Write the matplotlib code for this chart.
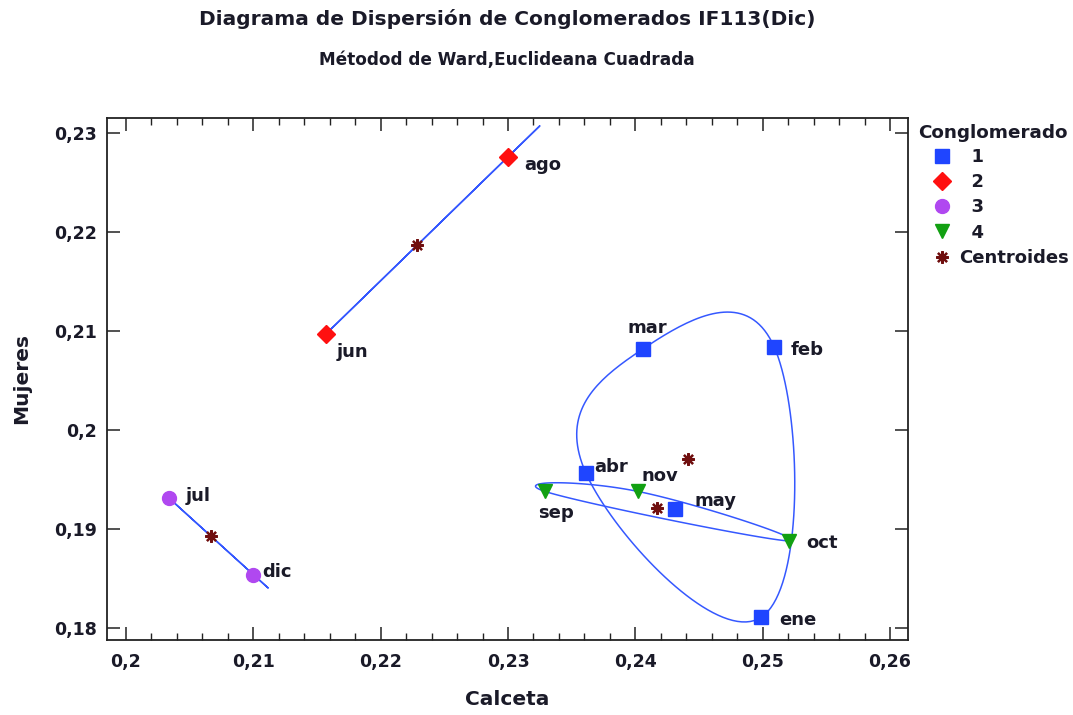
import matplotlib
matplotlib.use('Agg')
import matplotlib.pyplot as plt
import numpy as np
from matplotlib.lines import Line2D
from matplotlib.ticker import MultipleLocator, FuncFormatter

meses = ['ene', 'feb', 'mar', 'abr', 'may', 'jun', 'jul', 'ago', 'sep', 'oct', 'nov', 'dic']
calceta = [0.2499, 0.2509, 0.2406, 0.2361, 0.2431, 0.2157, 0.2034, 0.2300, 0.2329, 0.2521, 0.2402, 0.2100]
mujeres = [0.1811, 0.2084, 0.2082, 0.1957, 0.1920, 0.2097, 0.1931, 0.2276, 0.1938, 0.1888, 0.1938, 0.1854]
conglomerado = [1, 1, 1, 1, 1, 2, 3, 2, 4, 4, 4, 3]

# estilo por conglomerado
estilos = {
    1: dict(marker='s', color='#1f45ff', ms=10),
    2: dict(marker='D', color='#ff1010', ms=9),
    3: dict(marker='o', color='#b048f0', ms=10),
    4: dict(marker='v', color='#12a012', ms=10),
}
col_centro = '#700f0f'
col_linea = '#3558ff'
col_texto = '#1a1a28'

# desplazamiento de las etiquetas en pixeles (dx, dy hacia abajo, alineacion)
offs = {
    'ene': (18, 3, 'left'), 'feb': (16, 3, 'left'), 'mar': (4, -21, 'center'),
    'abr': (9, -6, 'left'), 'may': (20, -8, 'left'), 'jun': (11, 18, 'left'),
    'jul': (16, -2, 'left'), 'ago': (16, 8, 'left'), 'sep': (11, 22, 'center'),
    'oct': (17, 2, 'left'), 'nov': (4, -15, 'left'), 'dic': (9, -3, 'left'),
}


def hull(pts):
    pts = sorted(set(pts))
    if len(pts) <= 2:
        return pts

    def cross(o, a, b):
        return (a[0] - o[0]) * (b[1] - o[1]) - (a[1] - o[1]) * (b[0] - o[0])

    lower, upper = [], []
    for p in pts:
        while len(lower) >= 2 and cross(lower[-2], lower[-1], p) <= 0:
            lower.pop()
        lower.append(p)
    for p in reversed(pts):
        while len(upper) >= 2 and cross(upper[-2], upper[-1], p) <= 0:
            upper.pop()
        upper.append(p)
    return lower[:-1] + upper[:-1]


def curva_cerrada(pts, c=0.7, n=40):
    P = np.array(pts, dtype=float)
    if len(P) == 2:
        P = np.array([P[0], P[1], P[1]])
    m = len(P)
    T = np.array([c * (P[(i + 1) % m] - P[(i - 1) % m]) for i in range(m)])
    t = np.linspace(0, 1, n)[:, None]
    h00 = 2 * t**3 - 3 * t**2 + 1
    h10 = t**3 - 2 * t**2 + t
    h01 = -2 * t**3 + 3 * t**2
    h11 = t**3 - t**2
    segs = []
    for i in range(m):
        j = (i + 1) % m
        segs.append(h00 * P[i] + h10 * T[i] + h01 * P[j] + h11 * T[j])
    return np.vstack(segs)


x = np.array(calceta)
y = np.array(mujeres)
g = np.array(conglomerado)

fig = plt.figure(figsize=(10.73, 7.15), dpi=100)
ax = fig.add_axes([107 / 1073, 1 - 640 / 715, 801 / 1073, 522 / 715])

for k in sorted(estilos):
    sel = g == k
    pts = list(zip(x[sel], y[sel]))
    curva = curva_cerrada(hull(pts))
    ax.plot(curva[:, 0], curva[:, 1], color=col_linea, lw=1.1, zorder=1)

for k, st in estilos.items():
    sel = g == k
    ax.plot(x[sel], y[sel], ls='none', marker=st['marker'], color=st['color'],
            ms=st['ms'], mec=st['color'], zorder=3)
    ax.plot(x[sel].mean(), y[sel].mean(), ls='none', marker=(8, 2, 0),
            color=col_centro, ms=9, mew=1.6, zorder=3)

for nombre, xi, yi in zip(meses, x, y):
    dx, dy, ha = offs[nombre]
    ax.annotate(nombre, (xi, yi), xytext=(dx * 0.72, -dy * 0.72),
                textcoords='offset points', ha=ha, va='center',
                fontsize=13, fontweight='bold', color=col_texto, zorder=4)

ax.set_xlim(0.19851, 0.26141)
ax.set_ylim(0.17879, 0.23152)
ax.xaxis.set_major_locator(MultipleLocator(0.01))
ax.xaxis.set_minor_locator(MultipleLocator(0.002))
ax.yaxis.set_major_locator(MultipleLocator(0.01))
fmt = FuncFormatter(lambda v, p: ('%g' % round(v, 4)).replace('.', ','))
ax.xaxis.set_major_formatter(fmt)
ax.yaxis.set_major_formatter(fmt)
ax.tick_params(which='both', direction='in', top=True, right=True, color='#222222')
ax.tick_params(which='major', length=9.5, width=1.1)
ax.tick_params(which='minor', length=5, width=1.0)
ax.tick_params(axis='x', pad=9)
ax.tick_params(axis='y', pad=7)
for lab in ax.get_xticklabels() + ax.get_yticklabels():
    lab.set_fontsize(12.5)
    lab.set_fontweight('bold')
    lab.set_color(col_texto)
for s in ax.spines.values():
    s.set_linewidth(1.3)
    s.set_color('#222222')

ax.set_xlabel('Calceta', fontsize=14.5, fontweight='bold', color=col_texto, labelpad=14)
ax.set_ylabel('Mujeres', fontsize=14.5, fontweight='bold', color=col_texto, labelpad=17)

fig.text(507 / 1073, 1 - 19 / 715, 'Diagrama de Dispersión de Conglomerados IF113(Dic)',
         ha='center', va='center', fontsize=14.5, fontweight='bold', color=col_texto)
fig.text(507 / 1073, 1 - 60 / 715, 'Métodod de Ward,Euclideana Cuadrada',
         ha='center', va='center', fontsize=12.2, fontweight='bold', color=col_texto)

# leyenda
fig.text(918 / 1073, 1 - 133 / 715, 'Conglomerado', ha='left', va='center',
         fontsize=13.2, fontweight='bold', color=col_texto)
handles = [Line2D([], [], ls='none', marker=st['marker'], color=st['color'], ms=st['ms'])
           for st in estilos.values()]
handles.append(Line2D([], [], ls='none', marker=(8, 2, 0), color=col_centro, ms=9, mew=1.6))
labels = ['  %d' % k for k in estilos] + ['Centroides']
leg = fig.legend(handles, labels, loc='upper left', bbox_to_anchor=(930 / 1073, 1 - 148 / 715),
                 frameon=False, borderpad=0, borderaxespad=0, handlelength=1.3,
                 handletextpad=0.3, labelspacing=0.4, prop=dict(size=13, weight='bold'))
for t in leg.get_texts():
    t.set_color(col_texto)

fig.savefig('out.png', dpi=100)
